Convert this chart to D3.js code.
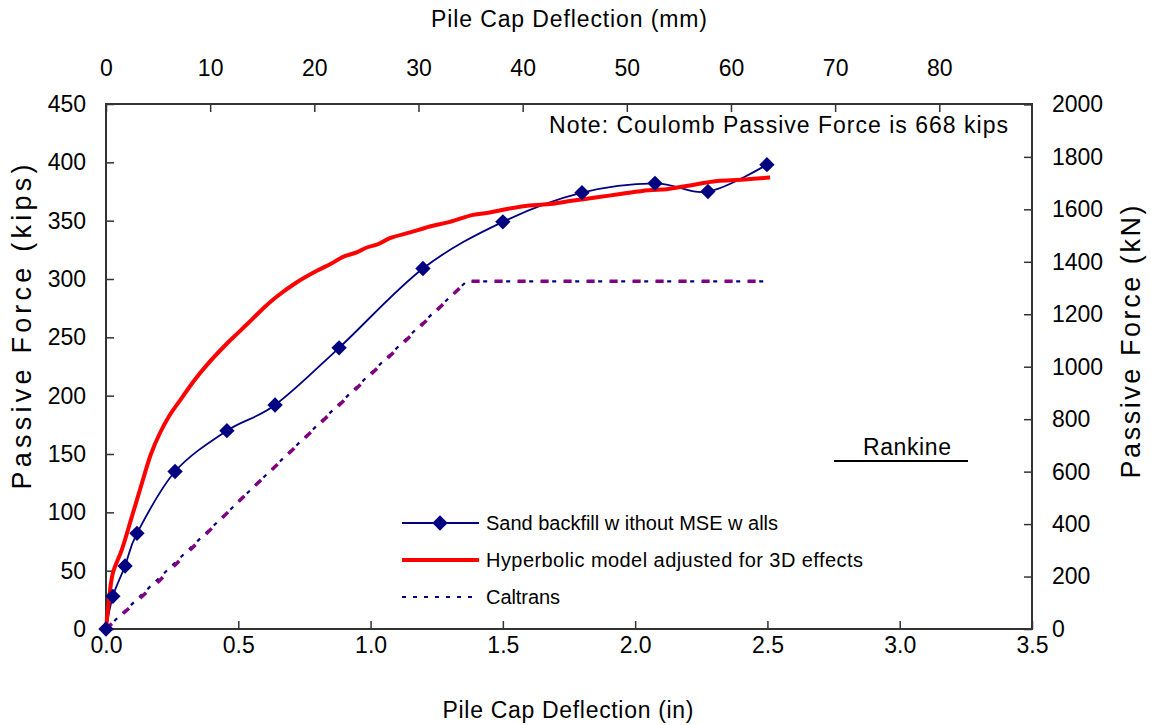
<!DOCTYPE html>
<html>
<head>
<meta charset="utf-8">
<script src="https://cdn.jsdelivr.net/npm/d3@7"></script>
<style>
  body { margin: 0; background: #fff; }
  svg text { font-family: "Liberation Sans", Arial, sans-serif; fill: #000; }
</style>
</head>
<body>
<div id="chart"></div>
<script>
// sand backfill without MSE walls (measured, in / kips)
var sandX = [0, 0.026, 0.072, 0.117, 0.261, 0.457, 0.639, 0.881, 1.198, 1.5, 1.799, 2.075, 2.275, 2.498];
var sandY = [0, 28, 54, 82, 135, 170, 192, 241, 309, 349, 374, 382, 375, 398];

// hyperbolic model adjusted for 3D effects
var hypX = [0, 0.01, 0.026, 0.06, 0.1, 0.128, 0.17, 0.204, 0.24, 0.28, 0.33, 0.38, 0.45, 0.5, 0.55, 0.6, 0.646, 0.72, 0.797, 0.85, 0.896, 0.95, 0.986, 1.03, 1.073, 1.15, 1.224, 1.3, 1.387, 1.45, 1.515, 1.6, 1.667, 1.76, 1.856, 1.95, 2.05, 2.12, 2.2, 2.31, 2.4, 2.51];
var hypY = [0, 22, 48, 68, 98, 119, 150, 168, 183, 196, 212, 226, 243, 254, 265, 276, 285, 297, 307, 313, 319, 323, 327, 330, 335, 340, 345, 349, 355, 357, 360, 363, 364, 367, 370, 373, 376, 377, 380, 384, 385, 387];

// Caltrans
var calX = [0, 0.45, 0.9, 1.2, 1.363, 2.5];
var calY = [0, 98, 197, 263, 298, 298];

// second (purple) dashed line along Caltrans
var purX = [0, 0.2, 0.5, 0.9, 1.2, 1.363, 2.5];
var purY = [0, 41, 109, 196, 262, 298, 298];

var xTicks = [0, 0.5, 1.0, 1.5, 2.0, 2.5, 3.0, 3.5];
var yTicks = [0, 50, 100, 150, 200, 250, 300, 350, 400, 450];
var mmTicks = [0, 10, 20, 30, 40, 50, 60, 70, 80];
var knTicks = [0, 200, 400, 600, 800, 1000, 1200, 1400, 1600, 1800, 2000];

var width = 1151, height = 725;
var margin = {top: 104, right: 119, bottom: 96, left: 106};
var w = width - margin.left - margin.right,
    h = height - margin.top - margin.bottom;

var svg = d3.select("#chart").append("svg")
  .attr("width", width).attr("height", height);
var g = svg.append("g").attr("transform", "translate(" + margin.left + "," + margin.top + ")");

var x = d3.scaleLinear().domain([0, 3.5]).range([0, w]);
var y = d3.scaleLinear().domain([0, 450]).range([h, 0]);
var xmm = d3.scaleLinear().domain([0, 3.5 * 25.4]).range([0, w]);
var ykn = d3.scaleLinear().domain([0, 450 * 4.448]).range([h, 0]);

function styleAxis(sel) {
  sel.select(".domain").remove();
  sel.selectAll(".tick line").attr("stroke", "#333").attr("stroke-width", 1.5);
  sel.selectAll(".tick text").style("font-size", "23px").style("font-family", "'Liberation Sans', Arial, sans-serif").attr("fill", "#000");
}

// axes with inside ticks
g.append("g").attr("transform", "translate(0," + h + ")")
  .call(d3.axisBottom(x).tickValues(xTicks).tickFormat(d3.format(".1f")).tickSizeInner(-8).tickSizeOuter(0).tickPadding(8))
  .call(styleAxis);
g.append("g")
  .call(d3.axisLeft(y).tickValues(yTicks).tickSizeInner(-8).tickSizeOuter(0).tickPadding(20))
  .call(styleAxis);
g.append("g")
  .call(d3.axisTop(xmm).tickValues(mmTicks).tickSizeInner(-8).tickSizeOuter(0).tickPadding(28))
  .call(styleAxis);
g.append("g").attr("transform", "translate(" + w + ",0)")
  .call(d3.axisRight(ykn).tickValues(knTicks).tickFormat(d3.format("d")).tickSizeInner(-8).tickSizeOuter(0).tickPadding(20))
  .call(styleAxis);

// frame
g.append("rect").attr("width", w).attr("height", h)
  .attr("fill", "none").attr("stroke", "#333").attr("stroke-width", 2);

function pts(xs, ys) { return xs.map(function(v, i) { return [v, ys[i]]; }); }
var line = d3.line().x(function(d) { return x(d[0]); }).y(function(d) { return y(d[1]); });
var smooth = d3.line().curve(d3.curveCatmullRom.alpha(0.5)).x(function(d) { return x(d[0]); }).y(function(d) { return y(d[1]); });

// caltrans
g.append("path").datum(pts(calX, calY))
  .attr("d", line).attr("fill", "none")
  .attr("stroke", "#000080").attr("stroke-width", 2.2).attr("stroke-dasharray", "4,7.5");

// purple dashed
g.append("path").datum(pts(purX, purY))
  .attr("d", line).attr("fill", "none")
  .attr("stroke", "#800080").attr("stroke-width", 3.5).attr("stroke-dasharray", "8,15");

// sand backfill
var sand = pts(sandX, sandY);
g.append("path").datum(sand)
  .attr("d", d3.line().curve(d3.curveCatmullRom.alpha(0)).x(function(d) { return x(d[0]); }).y(function(d) { return y(d[1]); }))
  .attr("fill", "none").attr("stroke", "#000080").attr("stroke-width", 1.8);

// hyperbolic
g.append("path").datum(pts(hypX, hypY))
  .attr("d", smooth).attr("fill", "none")
  .attr("stroke", "#ff0000").attr("stroke-width", 4).attr("stroke-linejoin", "round");

var diamond = d3.symbol().type(d3.symbolDiamond2).size(150);
g.selectAll(".mk").data(sand).enter().append("path")
  .attr("class", "mk")
  .attr("d", diamond)
  .attr("transform", function(d) { return "translate(" + x(d[0]) + "," + y(d[1]) + ")"; })
  .attr("fill", "#000080");

// titles
function label(txt, xx, yy, len, rot, size) {
  var t = svg.append("text").text(txt)
    .attr("text-anchor", "middle")
    .style("font-size", (size || 23) + "px");
  if (len) t.attr("textLength", len).attr("lengthAdjust", "spacing");
  if (rot) t.attr("transform", "translate(" + xx + "," + yy + ") rotate(" + rot + ")");
  else t.attr("x", xx).attr("y", yy);
  return t;
}
label("Pile Cap Deflection (mm)", 569, 27, 276);
label("Pile Cap Deflection (in)", 568, 718, 251);
label("Passive Force (kips)", 31, 327, 325, -90, 27);
label("Passive Force (kN)", 1140, 342, 273, -90, 27);

svg.append("text").text("Note: Coulomb Passive Force is 668 kips")
  .attr("x", 1008).attr("y", 133).attr("text-anchor", "end")
  .attr("textLength", 459).attr("lengthAdjust", "spacing")
  .style("font-size", "23px");

// Rankine
svg.append("text").text("Rankine").attr("x", 907).attr("y", 455)
  .attr("text-anchor", "middle").style("font-size", "23px")
  .attr("textLength", 88).attr("lengthAdjust", "spacing");
svg.append("line").attr("x1", 834).attr("x2", 968).attr("y1", 461).attr("y2", 461)
  .attr("stroke", "#000").attr("stroke-width", 2);

// legend
var legend = [
  {name: "Sand backfill w ithout MSE w alls", color: "#000080", sw: 1.8, dash: null, mark: true, len: 292},
  {name: "Hyperbolic model adjusted for 3D effects", color: "#ff0000", sw: 4, dash: null, mark: false, len: 377},
  {name: "Caltrans", color: "#000080", sw: 2.2, dash: "4,7", mark: false, len: 74}
];
var leg = svg.append("g");
legend.forEach(function(d, i) {
  var yy = 523 + i * 37;
  leg.append("line").attr("x1", 402).attr("x2", 479).attr("y1", yy).attr("y2", yy)
    .attr("stroke", d.color).attr("stroke-width", d.sw).attr("stroke-dasharray", d.dash);
  if (d.mark) leg.append("path").attr("d", diamond).attr("transform", "translate(440," + yy + ")").attr("fill", d.color);
  leg.append("text").text(d.name).attr("x", 486).attr("y", yy + 7)
    .attr("textLength", d.len).attr("lengthAdjust", "spacing")
    .style("font-size", "20px");
});
</script>
</body>
</html>
